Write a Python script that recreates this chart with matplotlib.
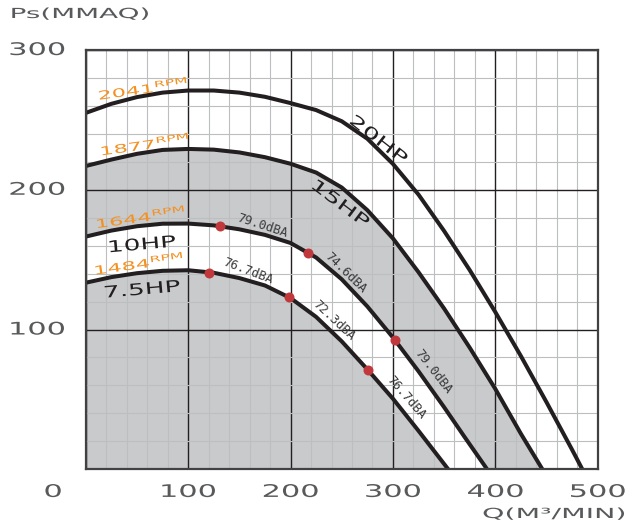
import numpy as np
import matplotlib
matplotlib.use("Agg")
import matplotlib.pyplot as plt
from matplotlib.patheffects import AbstractPathEffect
from matplotlib.transforms import Affine2D
from matplotlib.ticker import MultipleLocator

# fan curves: Q (m3/min) vs Ps (mmAq)
q20 = [0, 25, 50, 75, 100, 125, 150, 175, 200, 225, 250, 275, 300, 325, 350, 375, 400, 425, 450, 475, 485]
p20 = [255, 261.5, 266.3, 269.5, 271, 271, 269.5, 266.5, 262, 257, 249, 236.5, 218.5, 196.5, 170.5, 142.5, 112.5, 81, 48, 14, 0]

q15 = [0, 25, 50, 75, 100, 125, 150, 175, 200, 225, 250, 275, 300, 325, 350, 375, 400, 425, 446]
p15 = [217, 221.6, 225.7, 228.5, 229.2, 228.7, 226.7, 223.3, 218.6, 212.3, 201.6, 185.4, 165.2, 141, 115, 87, 57.5, 25.4, 0]

q10 = [0, 25, 50, 75, 100, 125, 150, 175, 200, 225, 250, 275, 300, 325, 350, 370, 392]
p10 = [166.5, 170.8, 173.9, 175.7, 175.8, 174.5, 171.7, 167.7, 161.9, 151.5, 135.9, 116.5, 94.3, 70.1, 44.4, 23.1, 0]

q75 = [0, 25, 50, 75, 100, 125, 150, 175, 200, 225, 250, 275, 300, 325, 354]
p75 = [133.5, 137.5, 140.3, 142, 142.4, 140.6, 136.8, 131.5, 122.5, 109, 91.5, 71.5, 50.5, 27.5, 0]

# noise measurement points
dot_q10 = [131, 217, 302]
dot_p10 = [174, 155, 92.5]
dba10 = ["79.0dBA", "74.6dBA", "79.0dBA"]
dot_q75 = [120, 198, 276]
dot_p75 = [140.7, 123.3, 70.7]
dba75 = ["76.7dBA", "72.3dBA", "76.7dBA"]

rpm_labels = ["2041", "1877", "1644", "1484"]
hp_labels = ["20HP", "15HP", "10HP", "7.5HP"]

xticks = [0, 100, 200, 300, 400, 500]
yticks = [100, 200, 300]

BLACK = "#231F20"
GRAY = "#C9CACC"
ORANGE = "#F39121"
RED = "#C0383C"
TXT = "#58595B"


class Stretch(AbstractPathEffect):
    """widen glyphs horizontally (extended font look)"""
    def __init__(self, sx):
        super().__init__()
        self.sx = sx

    def draw_path(self, renderer, gc, tpath, affine, rgbFace=None):
        e = tpath.get_extents()
        c = (e.x0 + e.x1) / 2
        st = Affine2D().translate(-c, 0).scale(self.sx, 1).translate(c, 0)
        renderer.draw_path(gc, tpath, st + affine, rgbFace)


fig = plt.figure(figsize=(6.32, 5.29), dpi=100)
ax = fig.add_axes([0.1358, 0.1129, 0.8099, 0.7926])
ax.set_xlim(0, 500)
ax.set_ylim(0, 300)
ax.xaxis.set_major_locator(MultipleLocator(100))
ax.yaxis.set_major_locator(MultipleLocator(100))
ax.xaxis.set_minor_locator(MultipleLocator(20))
ax.yaxis.set_minor_locator(MultipleLocator(20))
ax.set_axisbelow(False)
ax.grid(which="minor", color="#BCBEC0", lw=0.8)
ax.grid(which="major", color=BLACK, lw=1.0)
ax.tick_params(which="both", length=0, labelbottom=False, labelleft=False)
for s in ax.spines.values():
    s.set_color("#414042")
    s.set_linewidth(1.6)
    s.set_zorder(6)

# shaded bands: between 15HP and 10HP, and under 7.5HP; 10HP-7.5HP stays white
ax.fill(np.concatenate([q15, q10[::-1]]), np.concatenate([p15, p10[::-1]]),
        facecolor=GRAY, edgecolor="none", zorder=1)
ax.fill(q75 + [0], p75 + [0], facecolor=GRAY, edgecolor="none", zorder=1)
ax.fill(np.concatenate([q10, q75[::-1]]), np.concatenate([p10, p75[::-1]]),
        facecolor="white", edgecolor="none", zorder=1.2)

for q, p in [(q20, p20), (q15, p15), (q10, p10), (q75, p75)]:
    ax.plot(q, p, color=BLACK, lw=2.9, solid_joinstyle="round", zorder=3)

ax.plot(dot_q10, dot_p10, "o", color=RED, ms=7.2, mec="none", zorder=4)
ax.plot(dot_q75, dot_p75, "o", color=RED, ms=7.2, mec="none", zorder=4)

# dBA labels
dba_pos = [(172, 174.1, -18), (254, 140.5, -44), (339, 69.8, -52),
           (158.4, 141.8, -21), (242.4, 106.8, -43), (312.7, 51, -49)]
for (x, y, a), t in zip(dba_pos, dba10 + dba75):
    ax.text(x, y, t, rotation=a, rotation_mode="anchor", ha="center", va="center",
            family="DejaVu Sans Mono", fontsize=9, color="#3A3A3A", zorder=5)

# rpm labels
rpm_pos = [(56, 272.6), (57.8, 232.7), (53.6, 180.7), (52, 147.4)]
for (x, y), t in zip(rpm_pos, rpm_labels):
    ax.text(x, y, t + r"$^{\mathregular{RPM}}$", rotation=8, rotation_mode="anchor",
            ha="center", va="center", fontsize=8.5, color=ORANGE, zorder=5,
            path_effects=[Stretch(1.9)])

# hp labels
hp_pos = [(285.6, 235.6, -38), (248.3, 189.8, -37), (54.9, 160.5, 5), (54.9, 128.3, 5)]
for (x, y, a), t in zip(hp_pos, hp_labels):
    ax.text(x, y, t, rotation=a, rotation_mode="anchor", ha="center", va="center",
            fontsize=11.5, color=BLACK, zorder=5, path_effects=[Stretch(1.65)])

# tick labels in the extended style
for v in xticks:
    ax.text(v if v else -32, -0.054, str(v), transform=ax.get_xaxis_transform(),
            ha="center", va="center", fontsize=12.5, color=TXT, clip_on=False,
            path_effects=[Stretch(1.75)])
for v in yticks:
    ax.text(-0.095, v, str(v), transform=ax.get_yaxis_transform(),
            ha="center", va="center", fontsize=12.5, color=TXT, clip_on=False,
            path_effects=[Stretch(1.75)])

fig.text(80 / 632, 1 - 14 / 529, "Ps(MMAQ)", ha="center", va="center",
         fontsize=10, color=TXT, path_effects=[Stretch(2.0)])
fig.text(554 / 632, 1 - 514 / 529, "Q(M³/MIN)", ha="center", va="center",
         fontsize=10, color=TXT, path_effects=[Stretch(2.05)])

fig.savefig("out.png", dpi=100)
